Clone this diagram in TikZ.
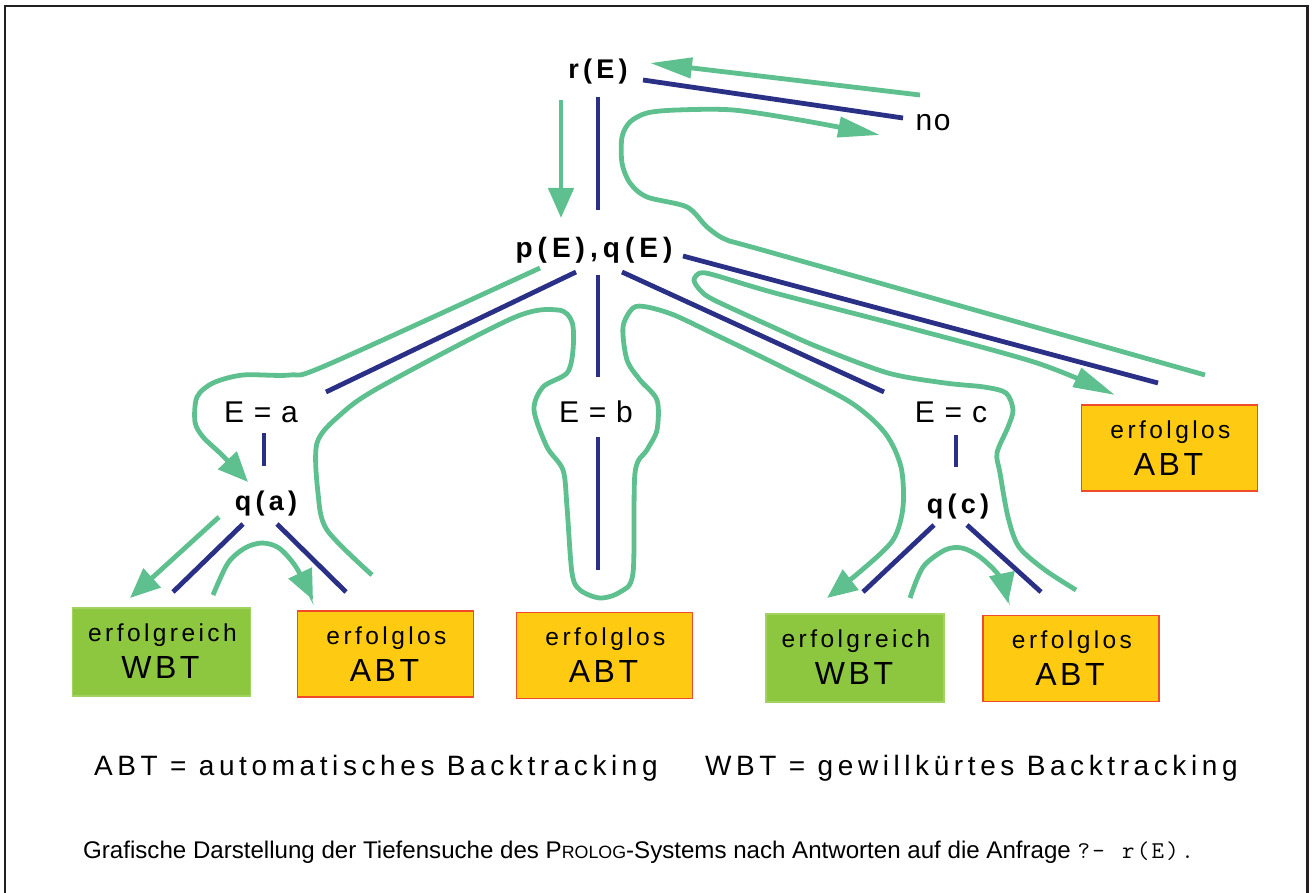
\documentclass[tikz,border=0pt]{standalone}
\usepackage{fontspec}
\setmainfont{Liberation Sans}
\usetikzlibrary{arrows.meta,calc}
\definecolor{trail}{HTML}{5DC08E}
\definecolor{edgeblue}{HTML}{2B3087}
\definecolor{boxyellow}{HTML}{FFCB12}
\definecolor{boxred}{HTML}{EF4B2B}
\definecolor{boxgreen}{HTML}{8DC63F}
\definecolor{boxgreenline}{HTML}{A2D35E}
\definecolor{frameblack}{HTML}{231F20}
\newcommand\setfs[1]{\fontsize{#1pt}{#1pt}\selectfont}
\newcommand\mk{\kern2.4pt}
\tikzset{
  treebold/.style={inner sep=0pt, anchor=base, font=\setfs{27}\bfseries\addfontfeatures{LetterSpace=16}},
  treereg/.style={inner sep=0pt, anchor=base, font=\setfs{30}\addfontfeatures{LetterSpace=5}},
  edgeline/.style={draw=edgeblue, line width=4.8pt},
  trailline/.style={draw=trail, line width=4.8pt},
  tipS/.style={-{Triangle[length=30pt,width=25pt]}},
  tipL/.style={-{Triangle[length=42pt,width=20pt]}},
  failbox/.style={draw=boxred, fill=boxyellow, line width=1.6pt, minimum width=176pt, minimum height=86pt, inner sep=0pt},
  winbox/.style={draw=boxgreenline, fill=boxgreen, line width=1.2pt, minimum width=178pt, minimum height=88pt, inner sep=0pt},
  boxtop/.style={inner sep=0pt, anchor=base, font=\setfs{24.5}\addfontfeatures{LetterSpace=14}},
  boxbot/.style={inner sep=0pt, anchor=base, font=\setfs{32}\addfontfeatures{LetterSpace=11}},
  legendtxt/.style={inner sep=0pt, anchor=base west, font=\setfs{28}\addfontfeatures{LetterSpace=16.4}},
  captiontxt/.style={inner sep=0pt, anchor=base west, font=\setfs{24.1}},
}
\begin{document}
\begin{tikzpicture}[x=1pt,y=-1pt]
\useasboundingbox (0,0) rectangle (1312,893);
% frame
\draw[frameblack, line width=2.2pt] (5,900) -- (5,6) -- (1307.5,6) -- (1307.5,900);

% tree labels
\node[treebold] (rE) at (598,79) {r(E)};
\node[treereg]  (no) at (933,131) {no};
\node[treebold, font=\setfs{28}\bfseries\addfontfeatures{LetterSpace=18}] (pq) at (594,258) {p(E),q(E)};
\node[treereg]  (Ea) at (261,422) {E = a};
\node[treereg]  (Eb) at (596,422) {E = b};
\node[treereg]  (Ec) at (951,422) {E = c};
\node[treebold] (qa) at (266,510) {q(a)};
\node[treebold] (qc) at (958,513) {q(c)};

% leaf boxes
\node[winbox]  (g1) at (161.5,652) {};
\node[failbox] (y1) at (385.5,654) {};
\node[failbox] (y2) at (604.5,655.5) {};
\node[winbox]  (g2) at (855,658) {};
\node[failbox] (y3) at (1071,658.5) {};
\node[failbox] (y4) at (1169.5,448) {};
\foreach \b/\ta/\tb in {g1/erfolgreich/WBT, y1/erfolglos/ABT, y2/erfolglos/ABT, g2/erfolgreich/WBT, y3/erfolglos/ABT, y4/erfolglos/ABT}{
  \node[boxtop] (\b-a) at ([xshift=1pt,yshift=-34pt]\b.north) {\ta};
  \node[boxbot] (\b-b) at ([xshift=-1pt,yshift=-71pt]\b.north) {\tb};
}

% tree edges (blue)
\coordinate (rE-s) at (598,97);   \coordinate (pq-n) at (598,210);
\coordinate (rE-e) at (643,80);   \coordinate (no-w) at (903,118);
\coordinate (pq-s) at (598,275);  \coordinate (Eb-n) at (598,377);
\coordinate (Eb-s) at (598,437);  \coordinate (y2-n) at (598,570);
\coordinate (pq-sw) at (576,272); \coordinate (Ea-ne) at (326,392);
\coordinate (Ea-s) at (264,433);  \coordinate (qa-n) at (264,466);
\coordinate (qa-sw) at (243,524); \coordinate (g1-ne) at (173,592);
\coordinate (qa-se) at (277,524); \coordinate (y1-nw) at (346,592);
\coordinate (pq-se) at (622,272); \coordinate (Ec-nw) at (884,392);
\coordinate (pq-e) at (683,256);  \coordinate (y4-nw) at (1158,383);
\coordinate (Ec-s) at (956,435);  \coordinate (qc-n) at (956,467);
\coordinate (qc-sw) at (934,525); \coordinate (g2-ne) at (863,592);
\coordinate (qc-se) at (967,525); \coordinate (y3-nw) at (1041,592);
\foreach \u/\v in {rE-s/pq-n, rE-e/no-w, pq-s/Eb-n, Eb-s/y2-n, pq-sw/Ea-ne, Ea-s/qa-n, qa-sw/g1-ne, qa-se/y1-nw, pq-se/Ec-nw, pq-e/y4-nw, Ec-s/qc-n, qc-sw/g2-ne, qc-se/y3-nw}
  \draw[edgeline] (\u) -- (\v);

% search trail (green)
\coordinate (t1a) at (561,100); \coordinate (t1b) at (561,218);
\draw[trailline, tipS] (t1a) -- (t1b);
\draw[trailline, tipS] plot[smooth, tension=0.5] coordinates {(540,268) (327,365) (290,375) (243,375) (213,383) (197,397) (195,422) (203,437) (222,455) (248,482)};
\coordinate (t3a) at (219,517); \coordinate (t3b) at (130,598);
\draw[trailline, tipS] (t3a) -- (t3b);
\draw[trailline, tipS] plot[smooth, tension=0.5] coordinates {(213,595) (228,563) (245,548) (262,543) (279,548) (296,567) (313,600)};
\draw[trailline, tipS] plot[smooth, tension=0.5] coordinates {(372,575) (327,530) (318,493) (317,443) (340,415) (380,387) (513,318) (558,310) (572,322) (573,350) (567,373) (543,387) (534,410) (547,447) (563,470) (567,507) (572,573) (580,590) (600,598) (620,592) (633,573) (635,473) (647,450) (657,430) (657,400) (640,380) (627,360) (623,327) (633,308) (647,307) (674,315) (714,334) (780,366) (850,402) (885,433) (901,467) (903,507) (893,540) (862,570) (827,598)};
\draw[trailline, tipS] plot[smooth, tension=0.5] coordinates {(910,598) (923,567) (945,550) (962,548) (980,557) (1000,577) (1008,603)};
\draw[trailline, tipL] plot[smooth, tension=0.5] coordinates {(1076,590) (1045,570) (1019,547) (1008,517) (1000,473) (997,453) (1008,427) (1013,410) (1006,393) (984,387) (945,383) (888,373) (818,347) (775,328) (714,300) (700,290) (694,280) (700,273) (714,275) (775,293) (906,327) (1037,363) (1115,395)};
\draw[trailline, tipL] plot[smooth, tension=0.5] coordinates {(1205,375) (773,253) (727,240) (707,227) (687,207) (647,197) (630,183) (622,163) (622,137) (630,122) (647,113) (677,110) (733,110) (800,120) (880,135)};
\coordinate (t9a) at (920,95); \coordinate (t9b) at (650,63);
\draw[trailline, tipL] (t9a) -- (t9b);

% legend and caption
\node[legendtxt] (abt) at (94,775) {ABT = automatisches Backtracking};
\node[legendtxt] (wbt) at (705,775) {WBT = gewillkürtes Backtracking};
\node[captiontxt] (cap) at (83,858) {Grafische Darstellung der Tiefensuche des P{\setfs{17.8}ROLOG}-Systems nach Antworten auf die Anfrage {\ttfamily ?\mk-\mk\ \mk r\mk(\mk E\mk)\mk.}};
\end{tikzpicture}
\end{document}
